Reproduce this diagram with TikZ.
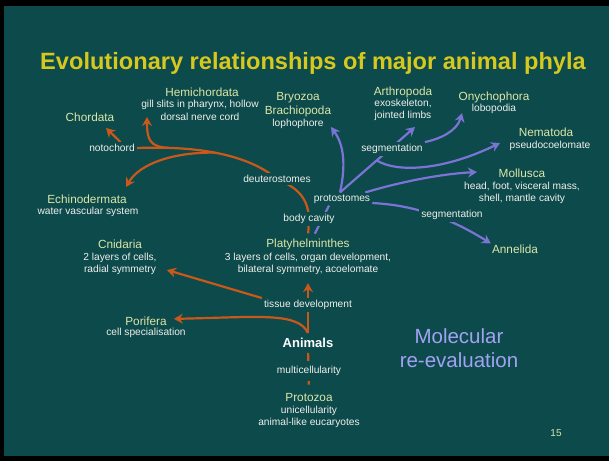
\documentclass[tikz,border=0pt]{standalone}
\usepackage{fontspec}
\setmainfont{Liberation Sans}
\usetikzlibrary{arrows.meta}

\definecolor{slidebg}{HTML}{0C4A4B}
\definecolor{titleyellow}{HTML}{D6C81E}
\definecolor{taxongreen}{HTML}{DCE6A8}
\definecolor{traitwhite}{HTML}{F0F0EC}
\definecolor{deutorange}{HTML}{C9581A}
\definecolor{protblue}{HTML}{7C74D4}
\definecolor{molblue}{HTML}{A2A2F4}

\pgfdeclarelayer{slide}
\pgfdeclarelayer{links}
\pgfsetlayers{slide,links,main}

\tikzstyle{taxon}=[text=taxongreen,font=\fontsize{11.8}{14.5}\selectfont,inner sep=1pt,align=center]
\tikzstyle{traits}=[text=traitwhite,font=\fontsize{10.2}{12.5}\selectfont,inner sep=1pt,align=center]
\tikzstyle{event}=[traits,fill=slidebg,inner sep=2pt]
\tikzstyle{deut}=[draw=deutorange,line width=2.2pt]
\tikzstyle{prot}=[draw=protblue,line width=2.2pt]
\tikzstyle{tip}=[-{Stealth[length=9pt,width=10pt,inset=3pt]}]

\begin{document}
\begin{tikzpicture}[x=1pt,y=-1pt]
  \begin{pgfonlayer}{slide}
    \fill[black] (0,0) rectangle (609,461);
    \fill[slidebg] (4,6) rectangle (609,456);
  \end{pgfonlayer}
  \useasboundingbox (0,0) rectangle (609,461);

  \node[text=titleyellow,font=\fontsize{23.6}{28}\selectfont\bfseries] (title) at (313,63)
    {Evolutionary relationships of major animal phyla};

  % deuterostomes
  \node[taxon] (chordata) at (90,117) {Chordata};
  \node[taxon] (hemichordata) at (202,92) {Hemichordata};
  \node[traits] (hemichordata traits) at (200,110.5) {gill slits in pharynx, hollow\\dorsal nerve cord};
  \node[taxon] (echinodermata) at (87,199) {Echinodermata};
  \node[traits] (echinodermata traits) at (88,212) {water vascular system};
  \node[event] (notochord) at (112,148) {notochord};
  \node[event] (deuterostomes) at (277,179) {deuterostomes};

  % protostomes
  \node[taxon] (bryozoa) at (298,104.5) {Bryozoa\\Brachiopoda};
  \node[traits] (bryozoa traits) at (298,124) {lophophore};
  \node[taxon] (arthropoda) at (403,92) {Arthropoda};
  \node[traits] (arthropoda traits) at (403,110) {exoskeleton,\\jointed limbs};
  \node[taxon] (onychophora) at (494,97) {Onychophora};
  \node[traits] (onychophora traits) at (494,109) {lobopodia};
  \node[taxon] (nematoda) at (546,132) {Nematoda};
  \node[traits] (nematoda traits) at (550,146) {pseudocoelomate};
  \node[taxon] (mollusca) at (522,173) {Mollusca};
  \node[traits] (mollusca traits) at (522,193) {head, foot, visceral mass,\\shell, mantle cavity};
  \node[taxon] (annelida) at (515,249) {Annelida};
  \node[event] (upper segmentation) at (392,149) {segmentation};
  \node[event] (lower segmentation) at (452,215) {segmentation};
  \node[event] (protostomes) at (342,199) {protostomes};

  % base of the tree
  \node[event] (body cavity) at (309,219) {body cavity};
  \node[taxon] (platyhelminthes) at (308,244) {Platyhelminthes};
  \node[traits] (platyhelminthes traits) at (308,264) {3 layers of cells, organ development,\\bilateral symmetry, acoelomate};
  \node[taxon] (cnidaria) at (120,244) {Cnidaria};
  \node[traits] (cnidaria traits) at (120,264) {2 layers of cells,\\radial symmetry};
  \node[event] (tissue development) at (308,305) {tissue development};
  \node[taxon] (porifera) at (146,321) {Porifera};
  \node[traits] (porifera traits) at (146,333) {cell specialisation};
  \node[text=white,font=\fontsize{13}{15}\selectfont\bfseries,inner sep=1pt] (animals) at (308,343) {Animals};
  \node[event,inner ysep=5pt] (multicellularity) at (309,371) {multicellularity};
  \node[taxon] (protozoa) at (309,397) {Protozoa};
  \node[traits] (protozoa traits) at (309,417) {unicellularity\\animal-like eucaryotes};

  \node[text=molblue,font=\fontsize{20.5}{24.5}\selectfont,align=center] (molecular) at (459,348) {Molecular\\re-evaluation};
  \node[text=taxongreen,font=\fontsize{10}{12}\selectfont] (page number) at (556,433) {15};

  \coordinate (hemichordata tip) at (147,117);
  \coordinate (echinodermata tip) at (126,187);
  \coordinate (chordata tip) at (106,128);
  \coordinate (cnidaria tip) at (167,270);
  \coordinate (bryozoa tip) at (331,127);
  \coordinate (arthropoda tip) at (415,127);
  \coordinate (onychophora tip) at (462,113);
  \coordinate (nematoda tip) at (500,143);
  \coordinate (mollusca tip) at (477,172);
  \coordinate (animals fork) at ([yshift=4pt]animals.north);
  \coordinate (protostomes fork) at ([xshift=-2pt]protostomes.north);

  \begin{pgfonlayer}{links}
    \draw[deut,shorten <=4pt] (platyhelminthes.north) -- (body cavity.center)
      .. controls (308,198) and (298,188) .. (deuterostomes.center)
      .. controls (245,152) and (190,146) .. (notochord.east)
      coordinate[pos=0.5] (echinodermata fork) coordinate[pos=0.8] (hemichordata fork);
    \draw[deut,tip] (hemichordata fork) .. controls (150,147) and (147,140) .. (hemichordata tip);
    \draw[deut,tip] (echinodermata fork) .. controls (175,152) and (140,163) .. (echinodermata tip);
    \draw[deut,tip] (notochord.35) -- (chordata tip);

    \draw[deut] (animals fork) -- (tissue development.south);
    \draw[deut,tip,shorten >=6pt] (animals fork) .. controls (298,312) and (260,317) .. ([yshift=2pt]porifera.east);
    \draw[deut,tip,shorten >=7pt] (tissue development.north) -- (platyhelminthes traits.south);
    \draw[deut,tip] (tissue development.north west) -- (cnidaria tip);
    \draw[deut,shorten <=4pt,shorten >=7pt] (animals.south) -- (protozoa.north);

    \draw[prot,shorten <=4pt] ([xshift=5pt]platyhelminthes.north) -- ([xshift=-13pt]protostomes.south);
    \draw[prot,tip] (protostomes fork) .. controls (346,165) and (344,145) .. (bryozoa tip);
    \draw[prot,tip] (protostomes fork) -- coordinate[pos=0.49] (nematoda fork) (arthropoda tip);
    \draw[prot,tip] (upper segmentation.north east) .. controls (440,139) and (457,131) .. (onychophora tip);
    \draw[prot,tip] (nematoda fork) .. controls (395,172) and (440,172) .. (nematoda tip);
    \draw[prot,tip] ([xshift=-7pt]protostomes.north east) .. controls (400,182) and (440,174) .. (mollusca tip);
    \draw[prot,tip] ([yshift=-4pt]protostomes.east) .. controls (410,205) and (445,215) .. (annelida.north west);
  \end{pgfonlayer}
\end{tikzpicture}
\end{document}
